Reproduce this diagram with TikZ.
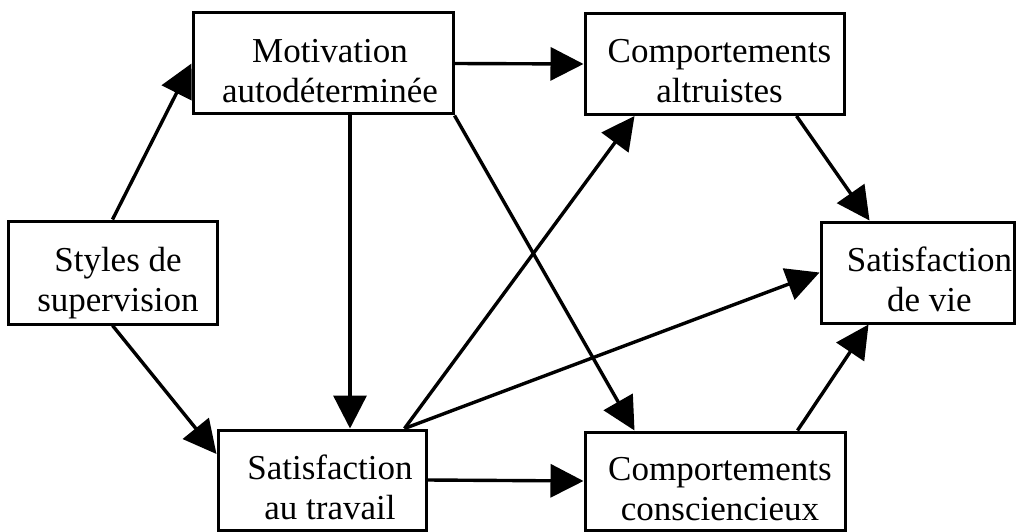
\documentclass[tikz,border=0pt]{standalone}
\usepackage{fontspec}
\setmainfont{Liberation Serif}
\usetikzlibrary{arrows.meta,calc}
\tikzset{
  box/.style={draw, line width=3pt, inner sep=0pt, font=\fontsize{35}{40}\selectfont},
  conn/.style={line width=3.4pt, -{Triangle[length=33pt,width=33pt]}},
}
\newcommand{\lbl}[3][0pt]{\hspace*{#1}\raisebox{-11pt}[\height][\depth]{\begin{tabular}{@{}c@{}}#2\\#3\end{tabular}}}
\begin{document}
\begin{tikzpicture}[x=1pt,y=-1pt]
\useasboundingbox (0,0) rectangle (1016,532);
\node[box, minimum width=260pt, minimum height=101pt] (mot) at (323,63.5) {\lbl[14pt]{Motivation}{autodéterminée}};
\node[box, minimum width=259pt, minimum height=101pt] (alt) at (714.5,64) {\lbl[10pt]{Comportements}{altruistes}};
\node[box, minimum width=209pt, minimum height=103pt] (sty) at (112.5,272.5) {\lbl[11pt]{Styles de}{supervision}};
\node[box, minimum width=193pt, minimum height=101pt] (vie) at (917.5,272.5) {\lbl[24pt]{Satisfaction}{de vie}};
\node[box, minimum width=208pt, minimum height=100pt] (sat) at (322,480) {\lbl[16pt]{Satisfaction}{au travail}};
\node[box, minimum width=260pt, minimum height=98pt] (con) at (715,481) {\lbl[10pt]{Comportements}{consciencieux}};

\coordinate (satw) at ([yshift=26pt]sat.west);
\coordinate (mots) at ([xshift=27pt]mot.south);
\coordinate (satn) at ([xshift=-23pt]sat.north east);
\coordinate (conn1) at ([xshift=51pt]con.north west);
\coordinate (alts1) at ([xshift=51pt]alt.south west);
\coordinate (alts2) at ([xshift=-49pt]alt.south east);
\coordinate (vien) at ([xshift=50pt]vie.north west);
\coordinate (conn2) at ([xshift=-49pt]con.north east);
\coordinate (vies) at ([xshift=49pt]vie.south west);

\draw[conn] (sty.north) -- (mot.west);
\draw[conn] (sty.south) -- (satw);
\draw[conn] (mots) -- (mots |- sat.north);
\draw[conn] (mot.east) -- (alt.west);
\draw[conn] (mot.south east) -- (conn1);
\draw[conn] (satn) -- (alts1);
\draw[conn] (satn) -- (vie.west);
\draw[conn] (sat.east) -- (con.west);
\draw[conn] (alts2) -- (vien);
\draw[conn] (conn2) -- (vies);
\end{tikzpicture}
\end{document}
